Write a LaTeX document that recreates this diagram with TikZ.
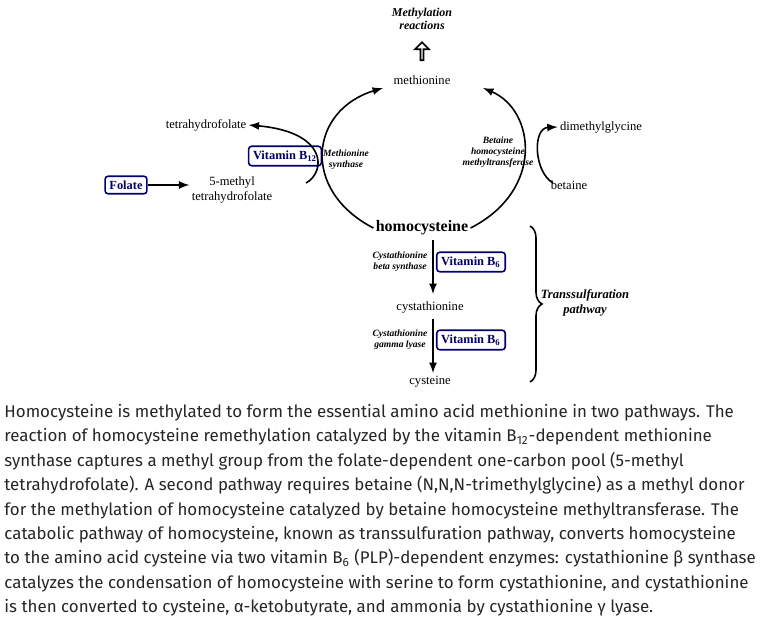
\documentclass[tikz,border=0pt]{standalone}
\usepackage{fontspec}
\setmainfont{Liberation Serif}
\newfontfamily\parafont{Fira Sans}
\usetikzlibrary{positioning,decorations.pathreplacing,shapes.arrows}
\tikzset{
  chem/.style={font=\fontsize{6.3}{7.2}\selectfont, inner sep=1pt},
  enzyme/.style={font=\fontsize{4.8}{5.6}\selectfont\bfseries\itshape, align=center, inner sep=0.5pt},
  vitamin/.style={draw=blue!45!black, thick, rounded corners=1.5pt, text=blue!40!black, font=\fontsize{6.2}{6.5}\selectfont\bfseries, inner sep=2.2pt},
  react/.style={-latex, thick},
}
\begin{document}
\begin{tikzpicture}[x=0.5pt, y=-0.5pt]
  \useasboundingbox (0,0) rectangle (768,621);
  % top
  \node (methyl) [enzyme, font=\fontsize{6}{6.8}\selectfont\bfseries\itshape] at (422,19) {Methylation\\reactions};
  \node (up) [single arrow, draw, thick, shape border rotate=90, minimum height=9pt, minimum width=7pt, single arrow head extend=1.5pt, inner sep=0pt] at (422,52) {};
  \node (met) [chem] at (422,80) {methionine};
  \node (hcy) [chem, font=\fontsize{8}{8.5}\selectfont\bfseries] at (422,228) {homocysteine};
  % remethylation
  \node (thf) [chem] at (206,125) {tetrahydrofolate};
  \node (mthf) [chem, align=center] at (232,190) {5-methyl\\tetrahydrofolate};
  \node (folate) [vitamin] at (126,185) {Folate};
  \node (b12) [vitamin] at (285,156) {Vitamin B\textsubscript{12}};
  \node (ms) [enzyme] at (346,160) {Methionine\\synthase};
  \node (dmg) [chem] at (601,127) {dimethylglycine};
  \node (bet) [chem] at (569,185) {betaine};
  \node (bhmt) [enzyme] at (498,152) {Betaine\\homocysteine\\methyltransferase};
  \coordinate (mthfout) at (306,183);
  \coordinate (betin) at (553,183);
  \draw [react] (folate) -- (mthf.west |- folate);
  \draw [react] (hcy.west) .. controls (300,190) and (310,110) .. (383,88);
  \draw [react] (hcy.east) .. controls (545,190) and (535,110) .. (483,88);
  \draw [react] (mthfout) .. controls (326,172) and (328,132) .. (thf.east);
  \draw [react] (betin) .. controls (534,172) and (532,128) .. (dmg.west);
  % transsulfuration
  \node (cth) [chem] at (430,307) {cystathionine};
  \node (cys) [chem] at (430,382) {cysteine};
  \node (cbs) [enzyme] at (400,262) {Cystathionine\\beta synthase};
  \node (b6a) [vitamin] at (471,262) {Vitamin B\textsubscript{6}};
  \node (cgl) [enzyme] at (400,340) {Cystathionine\\gamma lyase};
  \node (b6b) [vitamin] at (471,340) {Vitamin B\textsubscript{6}};
  \draw [react] (433,240) -- (433,294);
  \draw [react] (433,319) -- (433,373);
  \draw [thick, decorate, decoration={brace, amplitude=6pt}] (530,226) -- (530,382);
  \node (trans) [enzyme, font=\fontsize{6.3}{7.2}\selectfont\bfseries\itshape] at (585,303) {Transsulfuration\\pathway};
  % caption
  \node (caption) [anchor=north west, align=left, inner sep=0pt, text=black!85, font=\parafont\fontsize{8.45}{12.2}\selectfont] at (4,404) {%
Homocysteine is methylated to form the essential amino acid methionine in two pathways. The\\
reaction of homocysteine remethylation catalyzed by the vitamin B\textsubscript{12}-dependent methionine\\
synthase captures a methyl group from the folate-dependent one-carbon pool (5-methyl\\
tetrahydrofolate). A second pathway requires betaine (N,N,N-trimethylglycine) as a methyl donor\\
for the methylation of homocysteine catalyzed by betaine homocysteine methyltransferase. The\\
catabolic pathway of homocysteine, known as transsulfuration pathway, converts homocysteine\\
to the amino acid cysteine via two vitamin B\textsubscript{6} (PLP)-dependent enzymes: cystathionine β synthase\\
catalyzes the condensation of homocysteine with serine to form cystathionine, and cystathionine\\
is then converted to cysteine, α-ketobutyrate, and ammonia by cystathionine γ lyase.};
\end{tikzpicture}
\end{document}
